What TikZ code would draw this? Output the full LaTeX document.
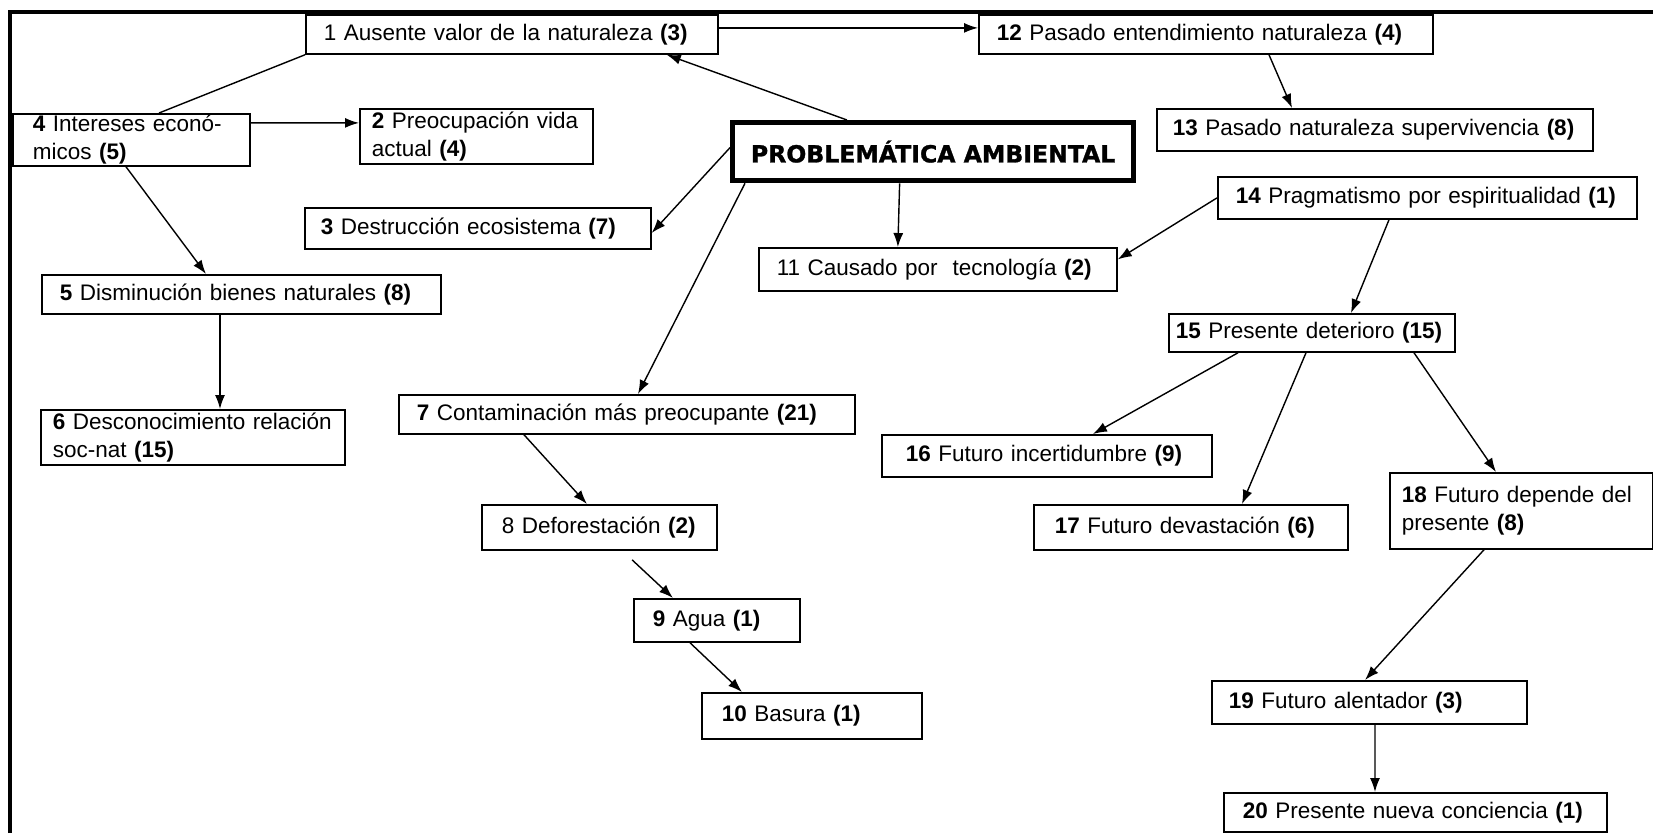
\documentclass[tikz,border=0pt]{standalone}
\usepackage{fontspec}
\setmainfont{Liberation Sans}
\newfontfamily\heavyfont{DejaVu Sans}[BoldFeatures={FakeBold=1.2}]
\usetikzlibrary{arrows.meta}

\tikzset{
	box/.style={draw, line width=0.5pt, anchor=north west, align=left, inner xsep=0.18cm, inner ysep=0pt, font=\fontsize{6.4}{8}\selectfont},
	main/.style={draw, line width=1.5pt, anchor=north west, inner sep=0pt, font=\heavyfont\bfseries\fontsize{6.7}{8}\selectfont},
	arr/.style={-{Latex[length=1.4mm,width=1mm]}, line width=0.4pt}
}

\begin{document}
\begin{tikzpicture}[x=1cm, y=-1cm]
	\useasboundingbox (0,0) rectangle (16.53,8.33);
	\draw [line width=0.9pt] (0.10,8.33) -- (0.10,0.12) -- (16.53,0.12);

	\node [main, minimum width=4.01cm, minimum height=0.58cm] (pa) at (7.30,1.20) {PROBLEMÁTICA AMBIENTAL};

	\node [box, text width=3.76cm, minimum height=0.39cm] (n1) at (3.05,0.14) {1 Ausente valor de la naturaleza \textbf{(3)}};
	\node [box, text width=2.09cm, inner xsep=0.12cm, minimum height=0.55cm] (n2) at (3.59,1.08) {\textbf{2} Preocupación vida\\actual \textbf{(4)}};
	\node [box, text width=3.14cm, inner xsep=0.16cm, minimum height=0.41cm] (n3) at (3.04,2.07) {\textbf{3} Destrucción ecosistema \textbf{(7)}};
	\node [box, text width=1.97cm, inner xsep=0.20cm, minimum height=0.52cm] (n4) at (0.12,1.13) {\textbf{4} Intereses econó-\\micos \textbf{(5)}};
	\node [box, text width=3.63cm, minimum height=0.39cm] (n5) at (0.41,2.74) {\textbf{5} Disminución bienes naturales \textbf{(8)}};
	\node [box, text width=2.80cm, inner xsep=0.12cm, minimum height=0.55cm] (n6) at (0.40,4.09) {\textbf{6} Desconocimiento relación\\soc-nat \textbf{(15)}};
	\node [box, text width=4.20cm, minimum height=0.39cm] (n7) at (3.98,3.94) {\textbf{7} Contaminación más preocupante \textbf{(21)}};
	\node [box, text width=1.95cm, inner xsep=0.20cm, minimum height=0.45cm] (n8) at (4.81,5.04) {8 Deforestación \textbf{(2)}};
	\node [box, text width=1.28cm, inner xsep=0.19cm, minimum height=0.43cm] (n9) at (6.33,5.98) {\textbf{9} Agua \textbf{(1)}};
	\node [box, text width=1.80cm, inner xsep=0.20cm, minimum height=0.46cm] (n10) at (7.01,6.92) {\textbf{10} Basura \textbf{(1)}};
	\node [box, text width=3.22cm, minimum height=0.43cm] (n11) at (7.58,2.47) {11 Causado por~ tecnología \textbf{(2)}};

	\node [box, text width=4.18cm, minimum height=0.39cm] (n12) at (9.78,0.14) {\textbf{12} Pasado entendimiento naturaleza \textbf{(4)}};
	\node [box, text width=4.04cm, inner xsep=0.16cm, minimum height=0.42cm] (n13) at (11.56,1.08) {\textbf{13} Pasado naturaleza supervivencia \textbf{(8)}};
	\node [box, text width=3.83cm, minimum height=0.42cm] (n14) at (12.17,1.76) {\textbf{14} Pragmatismo por espiritualidad \textbf{(1)}};
	\node [box, text width=2.72cm, inner xsep=0.07cm, minimum height=0.38cm] (n15) at (11.68,3.13) {\textbf{15} Presente deterioro \textbf{(15)}};
	\node [box, text width=2.82cm, inner xsep=0.24cm, minimum height=0.42cm] (n16) at (8.81,4.34) {\textbf{16} Futuro incertidumbre \textbf{(9)}};
	\node [box, text width=2.72cm, inner xsep=0.21cm, minimum height=0.45cm] (n17) at (10.33,5.04) {\textbf{17} Futuro devastación \textbf{(6)}};
	\node [box, text width=2.39cm, inner xsep=0.12cm, minimum height=0.76cm] (n18) at (13.89,4.72) {\textbf{18} Futuro depende del\\presente \textbf{(8)}};
	\node [box, text width=2.81cm, inner xsep=0.17cm, minimum height=0.43cm] (n19) at (12.11,6.80) {\textbf{19} Futuro alentador \textbf{(3)}};
	\node [box, text width=3.45cm, inner xsep=0.19cm, minimum height=0.39cm] (n20) at (12.23,7.92) {\textbf{20} Presente nueva conciencia \textbf{(1)}};

	% left branch
	\draw [arr] ([yshift=0.65mm]n1.east) -- ([yshift=0.65mm]n12.west);
	\draw [arr] ([xshift=1.17cm]pa.north west) -- ([xshift=-0.52cm]n1.south east);
	\draw (n1.south west) -- ([xshift=1.47cm]n4.north west);
	\draw [arr] ([yshift=1.7mm]n4.east) -- ([yshift=1.35mm]n2.west);
	\draw [arr] ([xshift=1.14cm]n4.south west) -- ([xshift=1.65cm]n5.north west);
	\draw [arr] ([xshift=1.79cm]n5.south west) -- ([xshift=1.80cm]n6.north west);
	\draw [arr] ([yshift=0.4mm]pa.west) -- ([yshift=-0.45mm]n3.east);
	\draw [arr] ([xshift=-3.35mm]pa.south) -- ([xshift=-4mm]n11.north);
	\draw [arr] ([xshift=1.5mm]pa.south west) -- ([xshift=2.4cm]n7.north west);
	\draw [arr] ([xshift=1.26cm]n7.south west) -- ([xshift=1.06cm]n8.north west);
	\draw [arr] ([xshift=1.51cm, yshift=-0.9mm]n8.south west) -- ([xshift=0.40cm]n9.north west);
	\draw [arr] ([xshift=0.57cm]n9.south west) -- ([xshift=0.41cm]n10.north west);

	% right branch
	\draw [arr] ([xshift=2.91cm]n12.south west) -- ([xshift=1.36cm]n13.north west);
	\draw [arr] (n14.west) -- ([yshift=1mm]n11.east);
	\draw [arr] ([xshift=1.72cm]n14.south west) -- ([xshift=1.83cm]n15.north west);
	\draw [arr] ([xshift=0.70cm]n15.south west) -- ([xshift=2.12cm]n16.north west);
	\draw [arr] ([xshift=1.38cm]n15.south west) -- ([xshift=2.09cm]n17.north west);
	\draw [arr] ([xshift=2.46cm]n15.south west) -- ([xshift=1.07cm]n18.north west);
	\draw [arr] ([xshift=0.95cm]n18.south west) -- ([xshift=1.54cm]n19.north west);
	\draw [arr] ([xshift=1.64cm]n19.south west) -- ([xshift=1.52cm]n20.north west);
\end{tikzpicture}
\end{document}
